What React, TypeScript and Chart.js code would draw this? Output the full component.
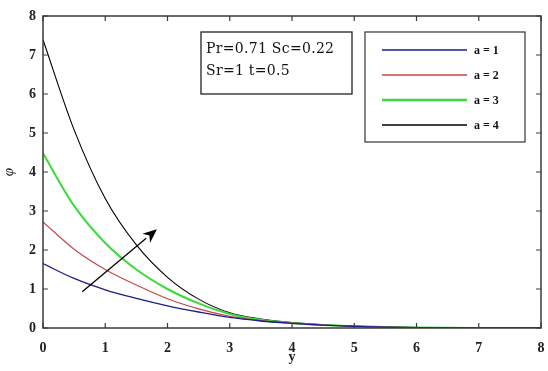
import React, { useEffect, useRef } from "react";
import { Chart, registerables } from "chart.js";

Chart.register(...registerables);

const xs = [0, 0.5, 1, 1.5, 2, 2.5, 3, 3.5, 4, 4.5, 5, 5.5, 6, 6.5, 7, 7.5, 8];
const phiA1 = [1.65, 1.27, 0.98, 0.76, 0.57, 0.41, 0.27, 0.18, 0.12, 0.072, 0.043, 0.022, 0.01, 0.004, 0.0015, 0.0005, 0];
const phiA2 = [2.72, 2.02, 1.5, 1.1, 0.75, 0.49, 0.3, 0.19, 0.125, 0.075, 0.045, 0.023, 0.011, 0.004, 0.0015, 0.0005, 0];
const phiA3 = [4.48, 3.13, 2.18, 1.5, 1.0, 0.63, 0.36, 0.21, 0.13, 0.08, 0.047, 0.024, 0.011, 0.004, 0.0015, 0.0005, 0];
const phiA4 = [7.39, 5.08, 3.32, 2.13, 1.3, 0.74, 0.39, 0.23, 0.14, 0.085, 0.05, 0.025, 0.012, 0.005, 0.002, 0.0007, 0];

const seriesLabels = ["a=1", "a=2", "a=3", "a=4"];
const seriesColors = ["#1c1c8a", "#c44646", "#3cd83c", "#000000"];
const seriesWidths = [1.3, 1.1, 2, 1.1];
const xTicks = [0, 1, 2, 3, 4, 5, 6, 7, 8];
const yTicks = [0, 1, 2, 3, 4, 5, 6, 7, 8];
const infoLines = ["Pr=0.71 Sc=0.22", "Sr=1 t=0.5"];
const arrowFrom = [0.63, 0.93];
const arrowTo = [1.83, 2.53];

const SERIF = "'Liberation Serif', 'DejaVu Serif', serif";
const WIDE_SERIF = "'DejaVu Serif', 'Liberation Serif', serif";

const framePlugin = {
  id: "framePlugin",
  afterDraw(chart: any) {
    const { ctx, chartArea: a, scales } = chart;
    const xs_ = scales.x;
    const ys_ = scales.y;
    ctx.save();
    // frame
    ctx.strokeStyle = "#3a3a3a";
    ctx.lineWidth = 1.5;
    ctx.strokeRect(a.left, a.top, a.right - a.left, a.bottom - a.top);
    // ticks inward
    ctx.lineWidth = 1.2;
    const tl = 5;
    xTicks.forEach((v) => {
      const px = xs_.getPixelForValue(v);
      ctx.beginPath();
      ctx.moveTo(px, a.bottom);
      ctx.lineTo(px, a.bottom - tl);
      ctx.moveTo(px, a.top);
      ctx.lineTo(px, a.top + tl);
      ctx.stroke();
    });
    yTicks.forEach((v) => {
      const py = ys_.getPixelForValue(v);
      ctx.beginPath();
      ctx.moveTo(a.left, py);
      ctx.lineTo(a.left + tl, py);
      ctx.moveTo(a.right, py);
      ctx.lineTo(a.right - tl, py);
      ctx.stroke();
    });

    // arrow
    const x1 = xs_.getPixelForValue(arrowFrom[0]);
    const y1 = ys_.getPixelForValue(arrowFrom[1]);
    const x2 = xs_.getPixelForValue(arrowTo[0]);
    const y2 = ys_.getPixelForValue(arrowTo[1]);
    const ang = Math.atan2(y2 - y1, x2 - x1);
    const hl = 14;
    const hw = 6;
    const bx = x2 - hl * Math.cos(ang);
    const by = y2 - hl * Math.sin(ang);
    ctx.strokeStyle = "#000";
    ctx.fillStyle = "#000";
    ctx.lineWidth = 1.3;
    ctx.beginPath();
    ctx.moveTo(x1, y1);
    ctx.lineTo(bx, by);
    ctx.stroke();
    const nx = -Math.sin(ang);
    const ny = Math.cos(ang);
    const ix = x2 - hl * 0.7 * Math.cos(ang);
    const iy = y2 - hl * 0.7 * Math.sin(ang);
    ctx.beginPath();
    ctx.moveTo(x2, y2);
    ctx.lineTo(bx + nx * hw, by + ny * hw);
    ctx.lineTo(ix, iy);
    ctx.lineTo(bx - nx * hw, by - ny * hw);
    ctx.closePath();
    ctx.fill();

    // info box
    const ibx = a.left + 158;
    const iby = a.top + 16;
    ctx.fillStyle = "#fff";
    ctx.fillRect(ibx, iby, 151, 62);
    ctx.strokeStyle = "#222";
    ctx.lineWidth = 1.3;
    ctx.strokeRect(ibx, iby, 151, 62);
    ctx.fillStyle = "#111";
    ctx.font = `14px ${WIDE_SERIF}`;
    ctx.textBaseline = "alphabetic";
    ctx.textAlign = "left";
    (ctx as any).letterSpacing = "0.3px";
    infoLines.forEach((t, i) => {
      ctx.fillText(t, ibx + 5, iby + 21 + i * 22);
    });
    (ctx as any).letterSpacing = "0px";

    // legend box
    const lx = a.left + 322;
    const ly = a.top + 16;
    const lw = 160;
    const lh = 110;
    ctx.fillStyle = "#fff";
    ctx.fillRect(lx, ly, lw, lh);
    ctx.strokeStyle = "#333";
    ctx.lineWidth = 1.2;
    ctx.strokeRect(lx, ly, lw, lh);
    ctx.font = `bold 12px ${SERIF}`;
    ctx.textBaseline = "middle";
    seriesLabels.forEach((lab, i) => {
      const yy = ly + 18 + i * 25;
      ctx.strokeStyle = seriesColors[i];
      ctx.lineWidth = seriesWidths[i] + 0.3;
      ctx.beginPath();
      ctx.moveTo(lx + 17, yy);
      ctx.lineTo(lx + 102, yy);
      ctx.stroke();
      ctx.fillStyle = "#111";
      ctx.fillText(lab.replace("=", " = "), lx + 109, yy + 1);
    });
    ctx.restore();
  },
};

export default function App() {
  const ref = useRef<HTMLCanvasElement | null>(null);
  useEffect(() => {
    document.body.style.margin = "0";
    const c = ref.current!;
    const mk = (vals: number[]) => xs.map((x, i) => ({ x, y: vals[i] }));
    const all = [phiA1, phiA2, phiA3, phiA4];
    const chart = new Chart(c, {
      type: "line",
      data: {
        datasets: all.map((vals, i) => ({
          label: seriesLabels[i],
          data: mk(vals),
          borderColor: seriesColors[i],
          borderWidth: seriesWidths[i],
          pointRadius: 0,
          fill: false,
          cubicInterpolationMode: "monotone" as const,
        })),
      },
      options: {
        responsive: false,
        animation: false,
        devicePixelRatio: 1,
        layout: { padding: { top: 16, right: 7, left: 0, bottom: 0 } },
        plugins: { legend: { display: false }, tooltip: { enabled: false } },
        scales: {
          x: {
            type: "linear",
            min: 0,
            max: 8,
            afterFit: (s: any) => {
              s.height = 43;
              s.paddingRight = 0;
            },
            ticks: {
              stepSize: 1,
              padding: 12,
              maxRotation: 0,
              minRotation: 0,
              color: "#222",
              font: { family: SERIF, size: 14, weight: "bold" },
            },
            grid: { display: false, drawTicks: false },
            border: { display: false },
            title: {
              display: true,
              text: "y",
              color: "#222",
              padding: { top: 0, bottom: 5 },
              font: { family: SERIF, size: 14, weight: "bold" },
            },
          },
          y: {
            type: "linear",
            min: 0,
            max: 8,
            afterFit: (s: any) => {
              s.width = 43;
            },
            ticks: {
              stepSize: 1,
              padding: 7,
              color: "#222",
              font: { family: SERIF, size: 14, weight: "bold" },
            },
            grid: { display: false, drawTicks: false },
            border: { display: false },
            title: {
              display: true,
              text: "φ",
              color: "#222",
              padding: { top: 0, bottom: 1 },
              font: { family: SERIF, size: 15, style: "italic" },
            },
          },
        },
      },
      plugins: [framePlugin],
    });
    return () => chart.destroy();
  }, []);
  return (
    <div style={{ width: 548, height: 371, background: "#fff" }}>
      <canvas ref={ref} width={548} height={371} />
    </div>
  );
}
